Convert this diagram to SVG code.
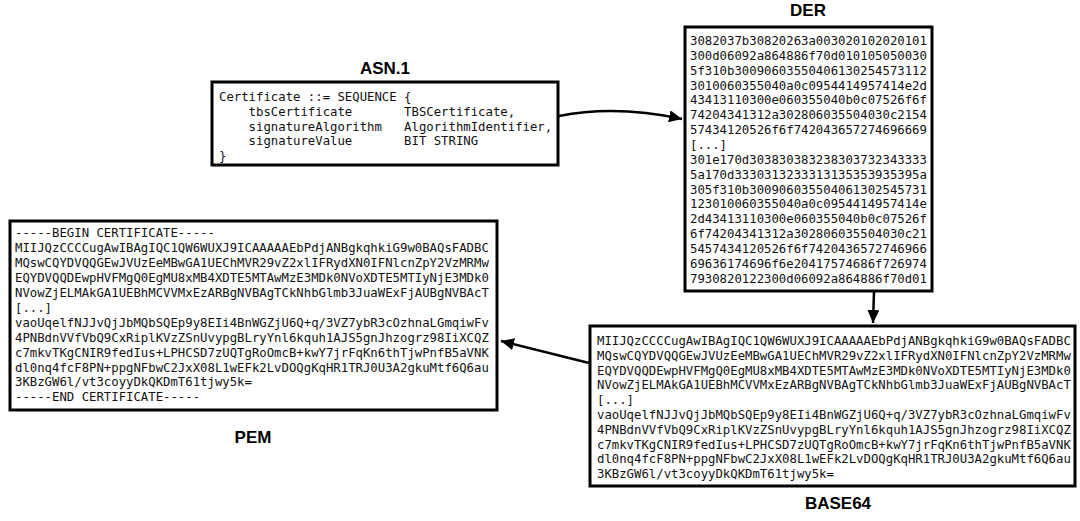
<svg xmlns="http://www.w3.org/2000/svg" width="1080" height="521" viewBox="0 0 1080 521">
<defs>
<style>
.box{fill:#fff;stroke:#000;stroke-width:3}
.lbl{font-family:"Liberation Sans",Arial,sans-serif;font-weight:bold;font-size:17px;text-anchor:middle;fill:#000}
.mono{font-family:"DejaVu Sans Mono","Liberation Mono",monospace;font-size:12.3px;fill:#111;white-space:pre}
.conn{fill:none;stroke:#000;stroke-width:2.5}
</style>
<marker id="arr" markerUnits="userSpaceOnUse" markerWidth="14" markerHeight="12" refX="13" refY="6" orient="auto">
<path d="M0,0 L13,6 L0,12 Z" fill="#000"/>
</marker>
</defs>
<rect width="1080" height="521" fill="#fff"/>
<g id="connectors">
<path class="conn" d="M559,116 C600,108 640,110 682,119" marker-end="url(#arr)"/>
<path class="conn" d="M874,292 L873,323" marker-end="url(#arr)"/>
<path class="conn" d="M589,363 L501,341" marker-end="url(#arr)"/>
</g>
<g id="asn1">
<text class="lbl" x="385" y="74">ASN.1</text>
<rect class="box" x="212" y="82" width="346" height="83"/>
<text class="mono" xml:space="preserve"><tspan x="219" y="101.4">Certificate ::= SEQUENCE {</tspan><tspan x="219" y="116">    tbsCertificate       TBSCertificate,</tspan><tspan x="219" y="130.6">    signatureAlgorithm   AlgorithmIdentifier,</tspan><tspan x="219" y="145.2">    signatureValue       BIT STRING</tspan><tspan x="219" y="159.8">}</tspan></text>
</g>
<g id="der">
<text class="lbl" x="808" y="16">DER</text>
<rect class="box" x="685" y="27" width="247" height="264"/>
<text class="mono"><tspan x="690" y="45">3082037b30820263a003020102020101</tspan><tspan x="690" y="59.85">300d06092a864886f70d010105050030</tspan><tspan x="690" y="74.7">5f310b30090603550406130254573112</tspan><tspan x="690" y="89.55">3010060355040a0c0954414957414e2d</tspan><tspan x="690" y="104.4">43413110300e060355040b0c07526f6f</tspan><tspan x="690" y="119.25">74204341312a302806035504030c2154</tspan><tspan x="690" y="134.1">57434120526f6f742043657274696669</tspan><tspan x="690" y="148.95">[...]</tspan><tspan x="690" y="163.8">301e170d303830383238303732343333</tspan><tspan x="690" y="178.65">5a170d3330313233313135353935395a</tspan><tspan x="690" y="193.5">305f310b300906035504061302545731</tspan><tspan x="690" y="208.35">123010060355040a0c0954414957414e</tspan><tspan x="690" y="223.2">2d43413110300e060355040b0c07526f</tspan><tspan x="690" y="238.05">6f74204341312a302806035504030c21</tspan><tspan x="690" y="252.9">5457434120526f6f7420436572746966</tspan><tspan x="690" y="267.75">69636174696f6e20417574686f726974</tspan><tspan x="690" y="282.6">7930820122300d06092a864886f70d01</tspan></text>
</g>
<g id="base64">
<text class="lbl" x="838" y="509">BASE64</text>
<rect class="box" x="590" y="326" width="485" height="160"/>
<text class="mono"><tspan x="597" y="345">MIIJQzCCCCugAwIBAgIQC1QW6WUXJ9ICAAAAAEbPdjANBgkqhkiG9w0BAQsFADBC</tspan><tspan x="597" y="359.8">MQswCQYDVQQGEwJVUzEeMBwGA1UEChMVR29vZ2xlIFRydXN0IFNlcnZpY2VzMRMw</tspan><tspan x="597" y="374.6">EQYDVQQDEwpHVFMgQ0EgMU8xMB4XDTE5MTAwMzE3MDk0NVoXDTE5MTIyNjE3MDk0</tspan><tspan x="597" y="389.4">NVowZjELMAkGA1UEBhMCVVMxEzARBgNVBAgTCkNhbGlmb3JuaWExFjAUBgNVBAcT</tspan><tspan x="597" y="404.2">[...]</tspan><tspan x="597" y="419">vaoUqelfNJJvQjJbMQbSQEp9y8EIi4BnWGZjU6Q+q/3VZ7ybR3cOzhnaLGmqiwFv</tspan><tspan x="597" y="433.8">4PNBdnVVfVbQ9CxRiplKVzZSnUvypgBLryYnl6kquh1AJS5gnJhzogrz98IiXCQZ</tspan><tspan x="597" y="448.6">c7mkvTKgCNIR9fedIus+LPHCSD7zUQTgRoOmcB+kwY7jrFqKn6thTjwPnfB5aVNK</tspan><tspan x="597" y="463.4">dl0nq4fcF8PN+ppgNFbwC2JxX08L1wEFk2LvDOQgKqHR1TRJ0U3A2gkuMtf6Q6au</tspan><tspan x="597" y="478.2">3KBzGW6l/vt3coyyDkQKDmT61tjwy5k=</tspan></text>
</g>
<g id="pem">
<text class="lbl" x="253" y="443">PEM</text>
<rect class="box" x="10" y="221" width="487" height="189"/>
<text class="mono"><tspan x="15" y="237.4">-----BEGIN CERTIFICATE-----</tspan><tspan x="15" y="252.3">MIIJQzCCCCugAwIBAgIQC1QW6WUXJ9ICAAAAAEbPdjANBgkqhkiG9w0BAQsFADBC</tspan><tspan x="15" y="267.2">MQswCQYDVQQGEwJVUzEeMBwGA1UEChMVR29vZ2xlIFRydXN0IFNlcnZpY2VzMRMw</tspan><tspan x="15" y="282.1">EQYDVQQDEwpHVFMgQ0EgMU8xMB4XDTE5MTAwMzE3MDk0NVoXDTE5MTIyNjE3MDk0</tspan><tspan x="15" y="297">NVowZjELMAkGA1UEBhMCVVMxEzARBgNVBAgTCkNhbGlmb3JuaWExFjAUBgNVBAcT</tspan><tspan x="15" y="311.9">[...]</tspan><tspan x="15" y="326.8">vaoUqelfNJJvQjJbMQbSQEp9y8EIi4BnWGZjU6Q+q/3VZ7ybR3cOzhnaLGmqiwFv</tspan><tspan x="15" y="341.7">4PNBdnVVfVbQ9CxRiplKVzZSnUvypgBLryYnl6kquh1AJS5gnJhzogrz98IiXCQZ</tspan><tspan x="15" y="356.6">c7mkvTKgCNIR9fedIus+LPHCSD7zUQTgRoOmcB+kwY7jrFqKn6thTjwPnfB5aVNK</tspan><tspan x="15" y="371.5">dl0nq4fcF8PN+ppgNFbwC2JxX08L1wEFk2LvDOQgKqHR1TRJ0U3A2gkuMtf6Q6au</tspan><tspan x="15" y="386.4">3KBzGW6l/vt3coyyDkQKDmT61tjwy5k=</tspan><tspan x="15" y="401.3">-----END CERTIFICATE-----</tspan></text>
</g>
</svg>
